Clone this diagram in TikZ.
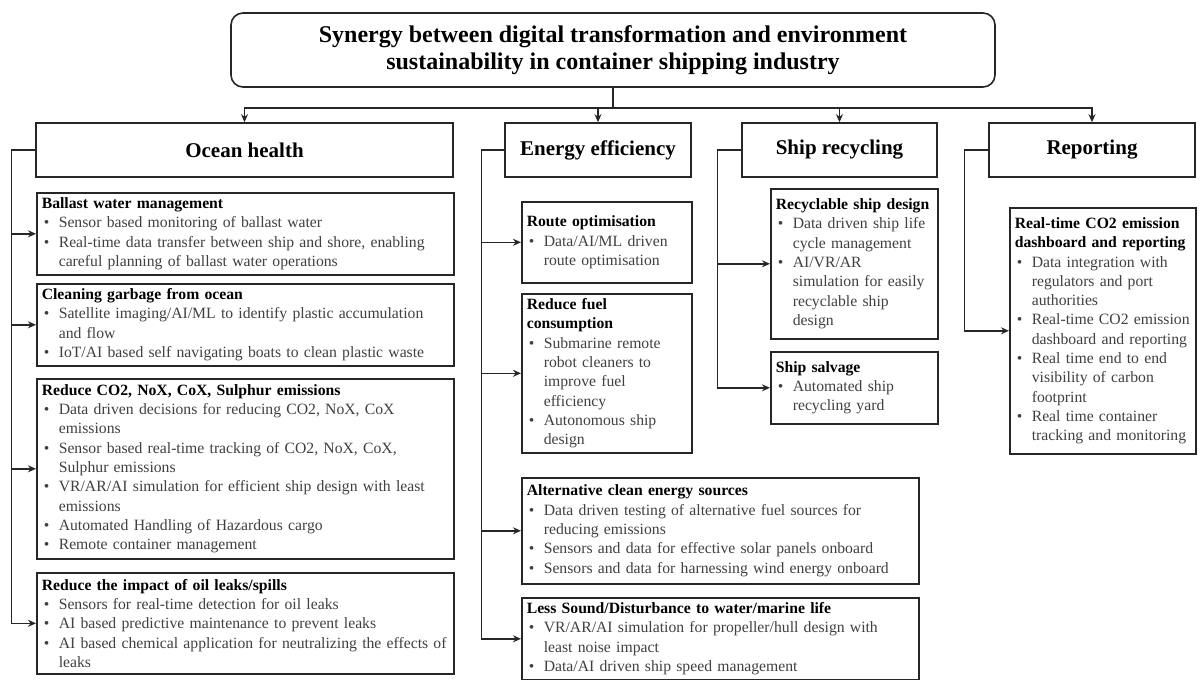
\documentclass[tikz,border=0pt]{standalone}
\usepackage{fontspec}
\setmainfont{Liberation Serif}
\usetikzlibrary{arrows.meta}
\definecolor{txtgray}{HTML}{404040}
\definecolor{linegray}{HTML}{262626}

\begin{document}
\begin{tikzpicture}[x=1pt,y=-1pt,
		title/.style = {draw=linegray, line width=1.6pt, rounded corners=12pt, minimum width=764pt, minimum height=74pt, align=center, font=\fontsize{24}{27}\selectfont\bfseries},
		head/.style = {draw=linegray, line width=1.6pt, minimum height=54pt, font=\fontsize{21}{24}\selectfont\bfseries},
		box/.style = {draw=linegray, line width=1.6pt, anchor=north west, inner xsep=5pt, inner ysep=3pt, align=left, font=\fontsize{15.7}{19.3}\selectfont},
		conn/.style = {draw=linegray, line width=1.4pt},
		arr/.style = {conn, -{Stealth[length=8pt,width=7pt]}},
	]

	\def\hd#1{{\noindent\hyphenpenalty=10000 \rightskip=-6pt plus 2em \relax\textbf{#1}\par}}
	\def\bl#1{{\noindent\color{txtgray}\hyphenpenalty=10000 \rightskip=-6pt plus 2em \relax\hangindent=17pt \hangafter=1 \makebox[17pt][l]{\hspace{2pt}•}#1\par}}

	\useasboundingbox (0,0) rectangle (1203,680);

	\node[title] (title) at (613,50) {Synergy between digital transformation and environment\\sustainability in container shipping industry};

	\node[head, minimum width=417pt] (ocean) at (244.5,150) {Ocean health};
	\node[head, minimum width=186pt] (energy) at (598,150) {Energy efficiency};
	\node[head, minimum width=195pt] (recyc) at (839.5,150) {Ship recycling};
	\node[head, minimum width=206pt] (report) at (1092,150) {Reporting};

	\coordinate (hub) at ([yshift=-20pt]title.south);
	\draw[conn] (title.south) -- (hub);
	\foreach \h in {ocean,energy,recyc,report}
		\draw[arr] (hub) -| (\h.north);

	% ocean health
	\node[box, text width=407pt, minimum height=82pt] (ballast) at (36,192) {\hd{Ballast water management}
		\bl{Sensor based monitoring of ballast water}
		\bl{Real-time data transfer between ship and shore, enabling\newline careful planning of ballast water operations}};
	\node[box, text width=407pt, minimum height=82pt] (garbage) at (36,283) {\hd{Cleaning garbage from ocean}
		\bl{Satellite imaging/AI/ML to identify plastic accumulation\newline and flow}
		\bl{IoT/AI based self navigating boats to clean plastic waste}};
	\node[box, text width=407pt, minimum height=180pt] (emis) at (36,378) {\hd{Reduce CO2, NoX, CoX, Sulphur emissions}
		\bl{Data driven decisions for reducing CO2, NoX, CoX\newline emissions}
		\bl{Sensor based real-time tracking of CO2, NoX, CoX,\newline Sulphur emissions}
		\bl{VR/AR/AI simulation for efficient ship design with least\newline emissions}
		\bl{Automated Handling of Hazardous cargo}
		\bl{Remote container management}};
	\node[box, text width=407pt, minimum height=101pt] (oil) at (36,572) {\hd{Reduce the impact of oil leaks/spills}
		\bl{Sensors for real-time detection for oil leaks}
		\bl{AI based predictive maintenance to prevent leaks}
		\bl{AI based chemical application for neutralizing the effects of\newline leaks}};

	% energy efficiency
	\node[box, text width=160pt, minimum height=81pt] (route) at (521,201) {\hd{Route optimisation}
		\bl{Data/AI/ML driven\newline route optimisation}};
	\node[box, text width=160pt, minimum height=159pt] (fuel) at (521,293) {\hd{Reduce fuel\newline consumption}
		\bl{Submarine remote\newline robot cleaners to\newline improve fuel\newline efficiency}
		\bl{Autonomous ship\newline design}};
	\node[box, text width=387pt, minimum height=106pt] (clean) at (521,477) {\hd{Alternative clean energy sources}
		\bl{Data driven testing of alternative fuel sources for\newline reducing emissions}
		\bl{Sensors and data for effective solar panels onboard}
		\bl{Sensors and data for harnessing wind energy onboard}};
	\node[box, text width=387pt, minimum height=82pt] (sound) at (521,597) {\hd{Less Sound/Disturbance to water/marine life}
		\bl{VR/AR/AI simulation for propeller/hull design with\newline least noise impact}
		\bl{Data/AI driven ship speed management}};

	% ship recycling
	\node[box, text width=157pt, minimum height=150pt] (design) at (770,188) {\hd{Recyclable ship design}
		\bl{Data driven ship life\newline cycle management}
		\bl{AI/VR/AR\newline simulation for easily\newline recyclable ship\newline design}};
	\node[box, text width=157pt, minimum height=72pt] (salvage) at (770,351) {\hd{Ship salvage}
		\bl{Automated ship\newline recycling yard}};

	% reporting
	\node[box, text width=176pt, minimum height=246pt] (dash) at (1009,207) {\hd{Real-time CO2 emission\newline dashboard and reporting}
		\bl{Data integration with\newline regulators and port\newline authorities}
		\bl{Real-time CO2 emission\newline dashboard and reporting}
		\bl{Real time end to end\newline visibility of carbon\newline footprint}
		\bl{Real time container\newline tracking and monitoring}};

	\foreach \c in {ballast,garbage,emis,oil}
		\draw[arr] (ocean.west) -- ++(-24,0) |- (\c.west);
	\foreach \c in {route,fuel,clean,sound}
		\draw[arr] (energy.west) -- ++(-23,0) |- (\c.west);
	\foreach \c in {design,salvage}
		\draw[arr] (recyc.west) -- ++(-24,0) |- (\c.west);
	\draw[arr] (report.west) -- ++(-24,0) |- (dash.west);

\end{tikzpicture}
\end{document}
